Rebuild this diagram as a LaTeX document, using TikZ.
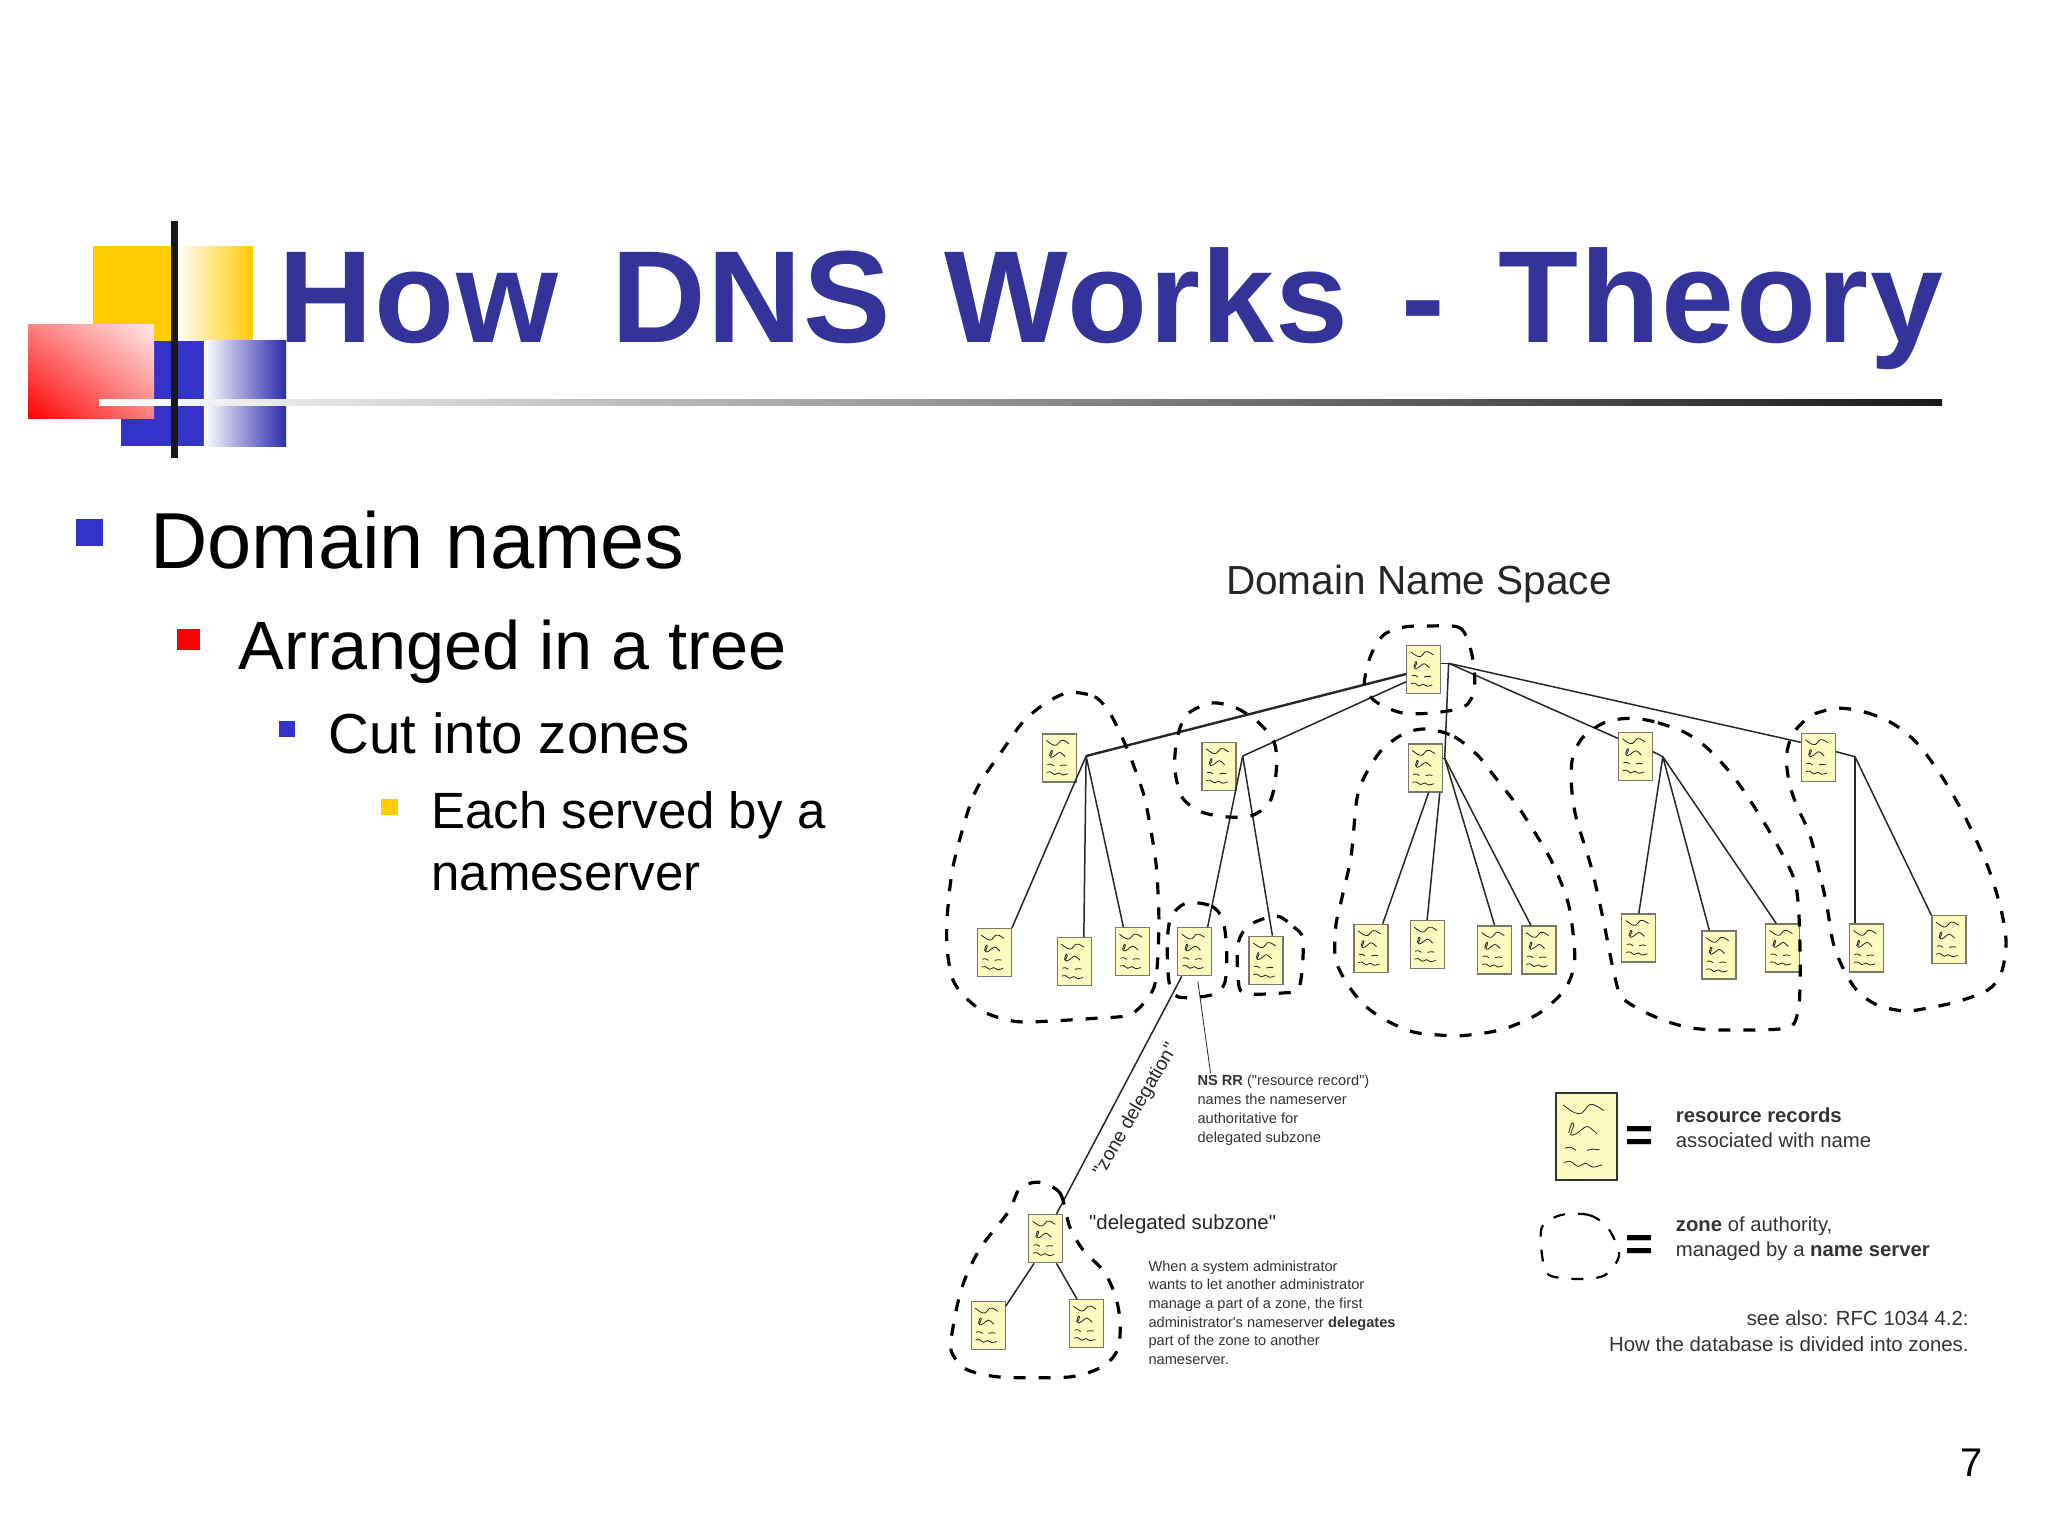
\documentclass[tikz,border=0pt]{standalone}
\usetikzlibrary{shadings}
\usepackage{fontspec}
\setmainfont{Liberation Sans}
\newfontfamily\titlefont[LetterSpace=1.2,WordSpace=1.4]{Liberation Sans}
\newfontfamily\notefont{Liberation Sans}
\definecolor{titleblue}{HTML}{333399}
\definecolor{squareblue}{HTML}{3333CC}
\definecolor{squareyellow}{HTML}{FFCC00}
\definecolor{docfill}{HTML}{FBFBC0}
\definecolor{docedge}{HTML}{77776A}
\newcommand{\docscribble}[1]{%
  \begin{scope}[shift={(path picture bounding box.center)},x=#1pt,y=-#1pt,line width=.4pt,black!85]
    \draw plot[smooth] coordinates {(-13,-17.5) (-6.8,-13.3) (-2.7,-13) (1.4,-17.5) (4.5,-17.5) (9.7,-14.4)};
    \draw plot[smooth] coordinates {(-9.9,-2) (-8.2,-7.4) (-7,-6.5) (-8.8,-1) (-5.8,-1.5) (.4,-5.6) (5.6,-1.5)};
    \draw plot[smooth] coordinates {(-12,6.5) (-8.8,6) (-5.8,7.7)};
    \draw plot[smooth] coordinates {(.4,7.7) (3.5,7) (7.2,7.4)};
    \draw plot[smooth] coordinates {(-12.6,14.4) (-8.8,13.9) (-4.7,16.6) (-.6,14.9) (3.5,17) (8.6,15.7)};
  \end{scope}}
\tikzset{
  recdoc/.style={draw=docedge,fill=docfill,line width=.6pt,inner sep=0pt,
    minimum width=17pt,minimum height=24pt,path picture={\docscribble{.5}}},
  recdocbig/.style={draw=black!80,fill=docfill,line width=.7pt,inner sep=0pt,
    minimum width=30.5pt,minimum height=43.5pt,path picture={\docscribble{.9}}},
  zoneline/.style={line width=1.6pt,dash pattern=on 6pt off 6.5pt},
  edgeline/.style={line width=.75pt,black!85},
  headbullet/.style={anchor=base west,inner sep=0pt},
  smallnote/.style={anchor=base west,inner sep=0pt,align=left,black!80,
    font=\notefont\fontsize{7.3}{9.35}\selectfont},
  legendnote/.style={anchor=base west,inner sep=0pt,align=left,black!80,
    font=\fontsize{10.15}{12.75}\selectfont}
}
\begin{document}
\begin{tikzpicture}[x=.5pt,y=-.5pt]
  \useasboundingbox (0,0) rectangle (2048,1536);
  % logo squares
  \fill[squareyellow] (93.4,246) rectangle (171,340.6);
  \shade[left color=white,right color=squareyellow] (175,246) rectangle (252.8,340.6);
  \fill[squareblue] (120.8,340.6) rectangle (203.8,446.4);
  \shade[left color=white,right color=squareblue!85!black] (203.8,340.6) rectangle (286,446.4);
  \shade[lower left=red,upper left=red!50!white,lower right=red!50!white,upper right=red!8!white] (28,324) rectangle (154,418.8);
  \shade[left color=white,middle color=white!75!black,right color=black!90] (99,399) rectangle (1942,405.4);
  \fill[black!90] (171,221.4) rectangle (178,457.6);
  % slide text
  \node[anchor=base west,inner sep=0pt,text=titleblue,font=\titlefont\bfseries\fontsize{65.5}{70}\selectfont] (title) at (278.5,342) {How DNS Works - Theory};
  \fill[squareblue] (75.8,519) rectangle (103.2,546.4);
  \node[headbullet,font=\fontsize{39.7}{44}\selectfont] (lineone) at (150,568) {Domain names};
  \fill[red] (177,628.6) rectangle (200,650);
  \node[headbullet,font=\fontsize{34.2}{40}\selectfont] (linetwo) at (238.4,669.8) {Arranged in a tree};
  \fill[squareblue] (279,721) rectangle (295,737);
  \node[headbullet,font=\fontsize{28.2}{34}\selectfont] (linethree) at (328.5,753.7) {Cut into zones};
  \fill[squareyellow] (381,798.7) rectangle (398,814.8);
  \node[headbullet,align=left,font=\fontsize{25.5}{31.35}\selectfont] (linefour) at (431,890.7) {Each served by a\\nameserver};
  \node[inner sep=0pt,font=\fontsize{20}{24}\selectfont] (pagenum) at (1972,1463) {7};
  % tree
  \node[inner sep=0pt,black!85,font=\fontsize{20.3}{26}\selectfont] (spacetitle) at (1419,584) {Domain Name Space};
  \draw
    (1423.7,669.3) node[recdoc] (root){}
    (1059.4,758) node[recdoc] (a){}
    (1219,766.3) node[recdoc] (b){}
    (1425.2,768) node[recdoc] (c){}
    (1635.4,756.3) node[recdoc] (d){}
    (1818.4,757.3) node[recdoc] (e){}
    (994.3,952.7) node[recdoc] (a1){}
    (1074.3,961.7) node[recdoc] (a2){}
    (1132.4,951.7) node[recdoc] (a3){}
    (1194.8,951.7) node[recdoc] (b1){}
    (1266,960.3) node[recdoc] (b2){}
    (1370.9,948.3) node[recdoc] (c1){}
    (1427.1,944.7) node[recdoc] (c2){}
    (1494.6,950) node[recdoc] (c3){}
    (1538.9,950) node[recdoc] (c4){}
    (1638.8,938) node[recdoc] (d1){}
    (1718.9,955) node[recdoc] (d2){}
    (1782.6,948) node[recdoc] (d3){}
    (1866.5,948) node[recdoc] (e1){}
    (1948.9,939.7) node[recdoc] (e2){}
    (1045.6,1238.7) node[recdoc] (f){}
    (988.2,1325.7) node[recdoc] (f1){}
    (1086.5,1323.7) node[recdoc] (f2){};
  \coordinate (rootfork) at (1448.6,663.3);
  \coordinate (afork) at (1086.1,756);
  \coordinate (bfork) at (1242.7,756);
  \coordinate (cfork) at (1444.7,758.3);
  \coordinate (dfork) at (1662.8,756.7);
  \coordinate (efork) at (1855,756.7);
  \node[smallnote] (nsnote) at (1197.1,1142) {\textbf{NS RR} ("resource record")\\names the nameserver\\authoritative for\\delegated subzone};
  \begin{scope}[edgeline]
    \draw ([yshift=3pt]root.east) to (rootfork);
    \draw[line width=1.2pt] ([yshift=-2.35pt]root.west) to (afork);
    \draw ([yshift=-6.2pt]root.west) to (bfork);
    \draw (rootfork) to (cfork);
    \draw (cfork) to ([yshift=4.85pt]c.east);
    \draw (rootfork) to ([yshift=9pt]d.west);
    \draw (rootfork) to ([yshift=7.5pt]e.west);
    \draw (afork) to (a1.north east);
    \draw (afork) to ([xshift=4.75pt]a2.north);
    \draw (afork) to ([xshift=-4.5pt]a3.north);
    \draw (bfork) to ([xshift=6.4pt]b1.north);
    \draw (bfork) to ([xshift=3.2pt]b2.north);
    \draw ([xshift=1.7pt]c.south) to ([xshift=5.9pt]c1.north);
    \draw ([xshift=7.3pt]c.south) to (c2.north);
    \draw (cfork) to (c3.north);
    \draw (cfork) to ([xshift=-4pt]c4.north);
    \draw ([yshift=2.3pt]d.east) to (dfork);
    \draw (dfork) to (d1.north);
    \draw (dfork) to ([xshift=-4.8pt]d2.north);
    \draw (dfork) to ([xshift=-3.2pt]d3.north);
    \draw ([yshift=2.8pt]e.east) to (efork);
    \draw (efork) to ([xshift=-5.75pt]e1.north);
    \draw (efork) to (e2.north west);
    \draw ([xshift=-6.5pt]b1.south) to ([xshift=5.4pt]f.north);
    \draw ([xshift=-5.75pt]f.south) to ([yshift=9.85pt]f1.east);
    \draw ([xshift=5.4pt]f.south) to ([xshift=-4.75pt]f2.north);
    \draw[line width=.4pt] ([xshift=1.5pt,yshift=-2.5pt]b1.south) to ([xshift=6.7pt,yshift=1pt]nsnote.north west);
  \end{scope}
  % zones
  \draw[zoneline] plot[smooth cycle] coordinates {(1427.5,626) (1458.1,627) (1467.7,640) (1473.4,663) (1474.2,690) (1463.9,707) (1431.3,713) (1402.6,713) (1377.7,703) (1364.4,687) (1370.1,657) (1383.5,635) (1404.6,627)};
  \draw[zoneline] plot[smooth cycle] coordinates {(1067.8,692.7) (1094.6,696.7) (1109.9,713.3) (1123.3,740) (1132.8,763.3) (1144.3,796.7) (1152,836.7) (1156.6,870) (1158.9,923.3) (1155.8,980) (1146.2,1000) (1129,1015) (1094.6,1018.3) (1037.2,1021.7) (1012.3,1021) (985.5,1012.7) (966.4,998.3) (953,980) (947.2,950) (947.2,916.7) (953,866.7) (968.3,810) (979.8,783.3) (1002.7,750) (1021.8,723.3) (1042.9,705)};
  \draw[zoneline] plot[smooth cycle] coordinates {(1211.3,703) (1236.2,708) (1259.1,723) (1274.4,743) (1276.3,770) (1270.6,800) (1253.4,815) (1228.5,817) (1201.7,812) (1182.6,798) (1174.9,770) (1176.8,740) (1186.4,715)};
  \draw[zoneline] plot[smooth cycle] coordinates {(1186.4,903) (1211.3,906) (1222.8,920) (1226.6,950) (1224.7,983) (1211.3,995) (1178.8,997) (1169.2,983) (1167.3,943) (1171.1,917)};
  \draw[zoneline] plot[smooth cycle] coordinates {(1276.3,916) (1293.6,927) (1303.1,940) (1299.3,987) (1282.1,993) (1243.8,993) (1238.1,977) (1238.1,943) (1249.6,925)};
  \draw[zoneline] plot[smooth cycle] coordinates {(1427.5,729) (1454.3,736.7) (1477.3,755) (1492,773.3) (1507.9,793.3) (1522.5,813.3) (1551,860) (1568.2,903.3) (1574,943.3) (1574,966.7) (1564.4,990) (1541.5,1011.7) (1514.8,1025) (1492,1031.7) (1461.4,1035.7) (1439,1035) (1412.2,1031.7) (1385.4,1020) (1366.3,1006.7) (1349.1,986.7) (1335.7,960) (1335.7,926.7) (1341.4,900) (1351,856.7) (1356.7,800) (1364.4,776.7) (1381.6,750) (1404.6,733.3)};
  \draw[zoneline] plot[smooth cycle] coordinates {(1633.1,718.3) (1657.9,722.7) (1686.5,733.3) (1709.3,750) (1736,780) (1766.6,826.7) (1793.2,876.7) (1799,916.7) (1800.1,983.3) (1797.1,1015) (1785.6,1028.3) (1724.6,1030) (1694.1,1028.3) (1667.4,1021.7) (1640.7,1010) (1621.6,996.7) (1614,973.3) (1602.6,916.7) (1591.1,866.7) (1575.9,816.7) (1571.3,783.3) (1572.8,756.7) (1583.5,736.7) (1606.4,721.7)};
  \draw[zoneline] plot[smooth cycle] coordinates {(1839,708.3) (1865.7,712.3) (1892.4,723.3) (1917.2,743.3) (1942,776.7) (1964.9,816.7) (1987.8,866.7) (2001.1,910) (2006.1,943.3) (2001.1,973.3) (1987.8,990) (1957.2,1001.7) (1926.7,1008.3) (1903.9,1011) (1877.2,1005) (1858.1,991.7) (1844.7,971.7) (1833.3,943.3) (1825.7,900) (1810.4,836.7) (1797.1,806.7) (1789.4,783.3) (1786.4,756.7) (1793.2,733.3) (1812.3,715)};
  \draw[zoneline] plot[smooth cycle] coordinates {(1039.1,1182.3) (1060.1,1193.3) (1069.7,1226.7) (1083.1,1250) (1104.1,1271.7) (1115.6,1296.7) (1120.2,1323.3) (1117.5,1350) (1102.2,1366.7) (1071.6,1376.7) (1021.8,1377.7) (991.2,1376) (964.4,1368.3) (951,1350) (953.7,1323.3) (960.6,1291.7) (970.2,1266.7) (983.6,1243.3) (1008.5,1211.7) (1019.9,1188.3)};
  % notes
  \node[inner sep=0pt,rotate=60,black!85,font=\notefont\fontsize{9.6}{12}\selectfont] (delegation) at (1136,1110) {"zone delegation"};
  \node[anchor=base west,inner sep=0pt,black!85,font=\notefont\fontsize{10.2}{12}\selectfont] (subzone) at (1088.8,1229) {"delegated subzone"};
  \node[smallnote] (whennote) at (1148.1,1364.5) {When a system administrator\\wants to let another administrator\\manage a part of a zone, the first\\administrator's nameserver \textbf{delegates}\\part of the zone to another\\nameserver.};
  % legend
  \node[recdocbig] (bigdoc) at (1586.5,1136.5) {};
  \draw[line width=1.1pt,dash pattern=on 6pt off 6.5pt] plot[smooth cycle] coordinates {(1561,1215) (1589,1215) (1608,1228) (1619,1255) (1605,1275) (1580,1279) (1549,1275) (1542,1255) (1542,1227)};
  \node[inner sep=0pt,font=\bfseries\fontsize{24}{26}\selectfont] (eqone) at (1639,1139) {=};
  \node[inner sep=0pt,font=\bfseries\fontsize{24}{26}\selectfont] (eqtwo) at (1639,1248) {=};
  \node[legendnote] (recnote) at (1675.5,1147.5) {\textbf{resource records}\\associated with name};
  \node[legendnote] (zonenote) at (1675.5,1256.5) {\textbf{zone} of authority,\\managed by a \textbf{name server}};
  \node[anchor=base east,inner sep=0pt,align=right,black!80,font=\fontsize{10.2}{13}\selectfont] (seealso) at (1969,1351) {see also: RFC 1034 4.2:\\How the database is divided into zones.};
\end{tikzpicture}
\end{document}
